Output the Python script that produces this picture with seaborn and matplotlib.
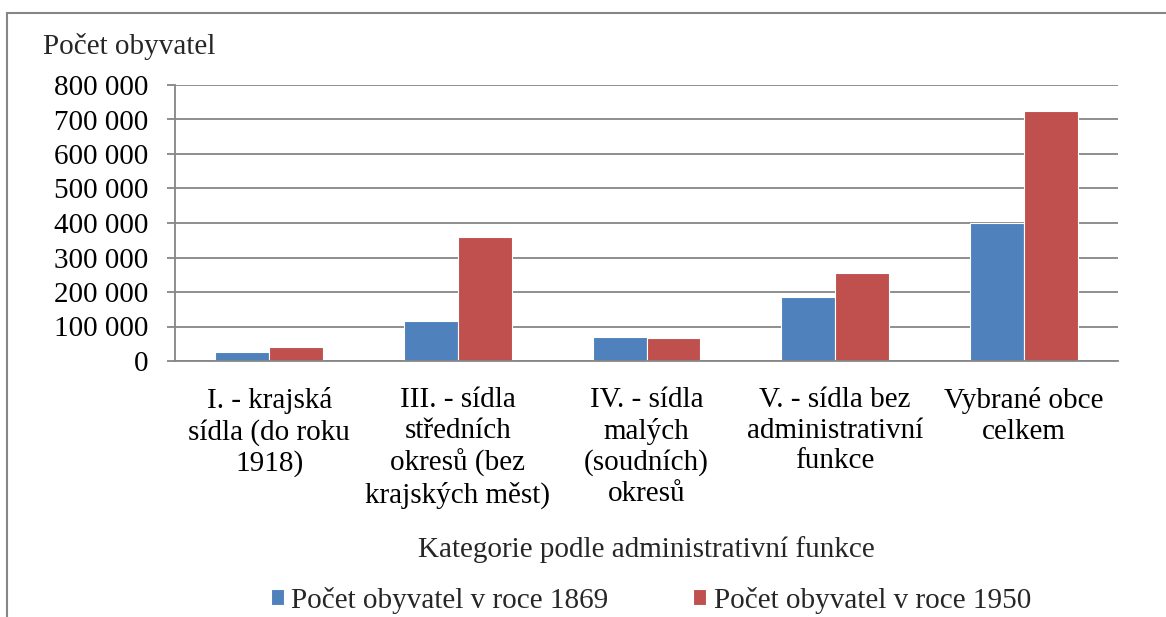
import matplotlib
matplotlib.use("Agg")
import matplotlib.pyplot as plt
import seaborn as sns
import pandas as pd
from matplotlib.patches import Rectangle
from matplotlib.ticker import FuncFormatter

categories = [
    "I. - krajská\nsídla (do roku\n1918)",
    "III. - sídla\nstředních\nokresů (bez\nkrajských měst)",
    "IV. - sídla\nmalých\n(soudních)\nokresů",
    "V. - sídla bez\nadministrativní\nfunkce",
    "Vybrané obce\ncelkem",
]
series_names = ["Počet obyvatel v roce 1869", "Počet obyvatel v roce 1950"]
values_1869 = [27000, 117000, 70000, 186000, 400000]
values_1950 = [40000, 359000, 67000, 256000, 724000]
colors = ["#4F81BD", "#C0504D"]

df = pd.DataFrame({
    "cat": categories * 2,
    "series": [series_names[0]] * 5 + [series_names[1]] * 5,
    "value": values_1869 + values_1950,
})

sns.set_theme(style="white")
plt.rcParams["font.family"] = ["Liberation Serif", "DejaVu Serif"]
FS = 21

fig = plt.figure(figsize=(11.66, 6.17), dpi=100)
ax = fig.add_axes([175 / 1166, 1 - 361 / 617, (1118 - 175) / 1166, (361 - 85) / 617])

sns.barplot(data=df, x="cat", y="value", hue="series", palette=colors,
            width=0.571, gap=0, ax=ax, edgecolor="white", linewidth=0.8,
            saturation=1, legend=True)

ax.set_ylim(0, 800000)
ax.set_yticks(range(0, 800001, 100000))
ax.yaxis.set_major_formatter(FuncFormatter(lambda v, p: f"{int(v):,}".replace(",", " ")))
ax.set_xlim(-0.5, 4.5)
ax.grid(axis="y", color="#868686", linewidth=1.3)
ax.set_axisbelow(True)
for s in ["top", "right"]:
    ax.spines[s].set_visible(False)
for s in ["left", "bottom"]:
    ax.spines[s].set_color("#868686")
    ax.spines[s].set_linewidth(1.3)
ax.tick_params(axis="y", which="major", length=6, width=1.3, color="#868686",
               direction="out", left=True, pad=13, labelsize=FS, labelcolor="black")
ax.tick_params(axis="x", length=0, pad=19, labelsize=FS, labelcolor="black")
for lbl in ax.get_xticklabels():
    lbl.set_ha("center")
    lbl.set_linespacing(1.22)
ax.set_ylabel("")
ax.set_xlabel("Kategorie podle administrativní funkce", fontsize=FS, labelpad=0)
ax.xaxis.set_label_coords(0.5, -(550 - 361) / 276, transform=ax.transAxes)
ax.xaxis.label.set_va("center")

fig.text(43 / 1166, 1 - 47 / 617, "Počet obyvatel", fontsize=FS, va="center", ha="left")

leg = ax.legend(loc="center", bbox_to_anchor=(651 / 1166, 1 - 600 / 617),
                bbox_transform=fig.transFigure, ncol=2, frameon=False,
                fontsize=FS, handlelength=0.45, handleheight=0.45,
                handletextpad=0.25, columnspacing=2.9, borderaxespad=0)

fig.patches.append(Rectangle((7 / 1166, -0.1), 1.2, 1 - 13 / 617 + 0.1,
                             transform=fig.transFigure, fill=False,
                             edgecolor="#868686", linewidth=1.5, zorder=-1))

fig.savefig("out.png", dpi=100, facecolor="white")
